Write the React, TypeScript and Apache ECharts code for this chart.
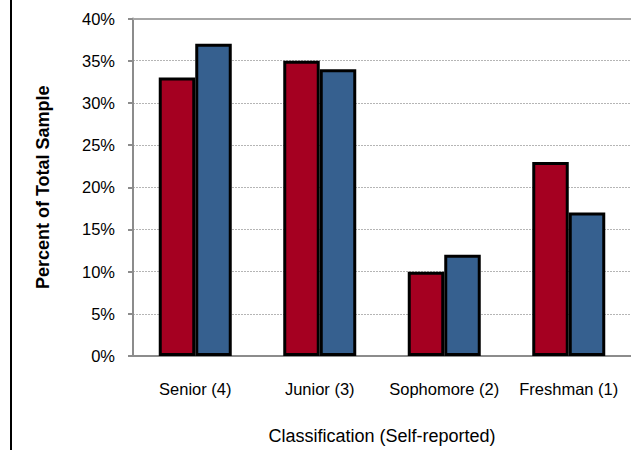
import React, { useEffect, useRef } from "react";
import * as echarts from "echarts";

const categories = ["Senior (4)", "Junior (3)", "Sophomore (2)", "Freshman (1)"];
const seriesA = [33, 35, 10, 23];
const seriesB = [37, 34, 12, 17];
const yTicks = { min: 0, max: 40, interval: 5 };
const yTitle = "Percent of Total Sample";
const xTitle = "Classification (Self-reported)";

export default function App() {
  const ref = useRef<HTMLDivElement>(null);
  useEffect(() => {
    if (!ref.current) return;
    const chart = echarts.init(ref.current, undefined, { renderer: "svg" });
    const font = "Arial, 'Liberation Sans', sans-serif";
    chart.setOption({
      animation: false,
      backgroundColor: "#ffffff",
      grid: { left: 133, top: 18.5, width: 507, height: 343, containLabel: false },
      graphic: [
        {
          type: "line",
          shape: { x1: 11, y1: 0, x2: 11, y2: 450 },
          style: { stroke: "#000", lineWidth: 2 },
        },
      ],
      xAxis: {
        type: "category",
        data: categories,
        axisLine: { show: true, lineStyle: { color: "#8c8c8c", width: 2 } },
        axisTick: { show: false },
        axisLabel: {
          color: "#000",
          fontSize: 16.5,
          fontFamily: font,
          margin: 24,
          interval: 0,
        },
        name: xTitle,
        nameLocation: "middle",
        nameGap: 71,
        nameTextStyle: { color: "#000", fontSize: 18, fontFamily: font },
      },
      yAxis: {
        type: "value",
        min: yTicks.min,
        max: yTicks.max,
        interval: yTicks.interval,
        axisLine: { show: true, lineStyle: { color: "#8c8c8c", width: 2 } },
        axisTick: { show: true, length: 5, lineStyle: { color: "#8c8c8c", width: 2 } },
        axisLabel: {
          color: "#000",
          fontSize: 16.5,
          fontFamily: font,
          margin: 18,
          formatter: "{value}%",
        },
        splitLine: { show: true, lineStyle: { color: "#b5b5b5", type: [2, 1], width: 1 } },
        name: yTitle,
        nameLocation: "middle",
        nameGap: 81,
        nameRotate: 90,
        nameTextStyle: { color: "#000", fontSize: 18, fontWeight: "bold", fontFamily: font },
      },
      series: [
        {
          type: "bar",
          data: seriesA,
          barWidth: 36.5,
          barGap: "0%",
          itemStyle: { color: "#A50021", borderColor: "#000", borderWidth: 3 },
          markLine: {
            silent: true,
            symbol: "none",
            label: { show: false },
            lineStyle: { color: "#a6a6a6", type: "solid", width: 2 },
            data: [{ yAxis: yTicks.max }],
          },
        },
        {
          type: "bar",
          data: seriesB,
          barWidth: 36.5,
          itemStyle: { color: "#36608F", borderColor: "#000", borderWidth: 3 },
        },
      ],
    });
    return () => chart.dispose();
  }, []);
  return (
    <div
      ref={ref}
      style={{ position: "fixed", left: 0, top: 0, width: 631, height: 450, background: "#fff" }}
    />
  );
}
